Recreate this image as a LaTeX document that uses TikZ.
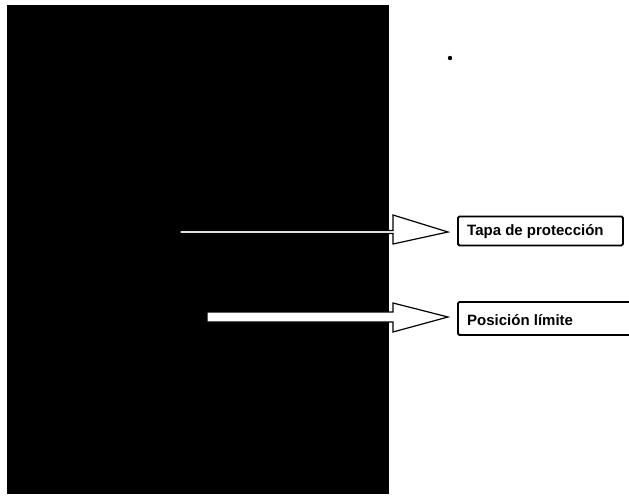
\documentclass[tikz,border=0pt]{standalone}
\usepackage{fontspec}
\setmainfont{Liberation Sans}
\begin{document}
\begin{tikzpicture}[x=1pt,y=-1pt,
  labelbox/.style={draw=black,line width=1.8pt,fill=white,rounded corners=1.5pt,
    inner sep=0pt,anchor=north west},
  labeltext/.style={anchor=base west,inner sep=0pt,font=\bfseries\fontsize{15}{18}\selectfont},
  arrowshape/.style={draw=black,line width=1.2pt,fill=white,line join=miter}]
\useasboundingbox (0,0) rectangle (629,498);
\fill[white] (0,0) rectangle (629,498);
\fill[black] (7,5) rectangle (389,494);
% dot
\fill[black] (450,58) circle (2.2);
% label boxes
\node[labelbox,minimum width=165pt,minimum height=29pt] (tapa) at (457,215.5) {};
\node[labeltext] (tapatxt) at (467,235.5) {Tapa de protección};
\node[labelbox,minimum width=180pt,minimum height=33pt] (pos) at (457,301) {};
\node[labeltext] (postxt) at (467,325) {Posición límite};
% arrows
\draw[arrowshape] (180,230.5) -- (393,230.5) -- (393,215) -- (448,232) -- (393,244) -- (393,233.5) -- (180,233.5) -- cycle;
\draw[arrowshape] (207,312) -- (393,312) -- (393,303) -- (448,317) -- (393,332) -- (393,322) -- (207,322) -- cycle;
\end{tikzpicture}
\end{document}
